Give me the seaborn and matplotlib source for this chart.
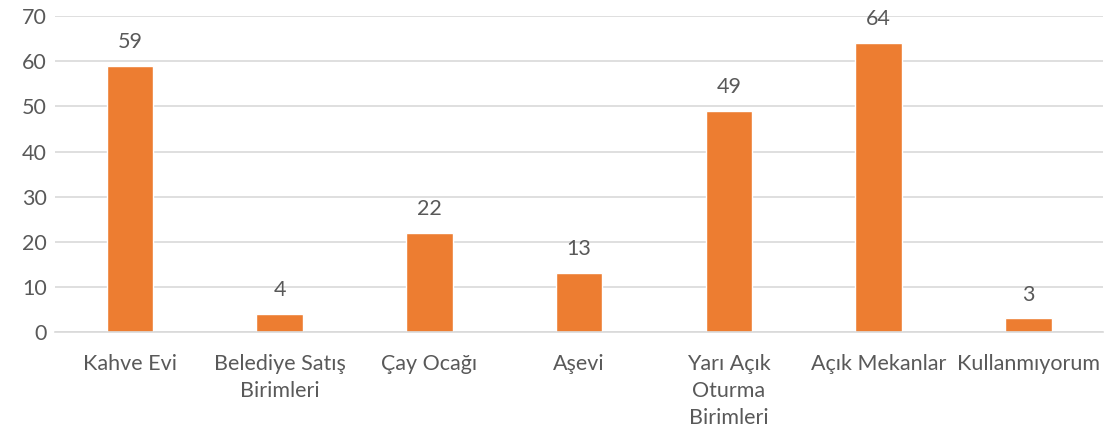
import matplotlib.pyplot as plt
import seaborn as sns
import pandas as pd
import numpy as np

# datos del grafico
categorias = ['Kahve Evi', 'Belediye Satış\nBirimleri', 'Çay Ocağı', 'Aşevi',
              'Yarı Açık\nOturma\nBirimleri', 'Açık Mekanlar', 'Kullanmıyorum']
valores = [59, 4, 22, 13, 49, 64, 3]

df = pd.DataFrame({'categoria': categorias, 'valor': valores})

sns.set_style('white')
plt.rcParams['font.family'] = ['Lato', 'DejaVu Sans']
gris = '#595959'
fs = 15.5

fig = plt.figure(figsize=(11.1, 4.36), dpi=100)
ax = fig.add_axes([0.0495, 0.2385, 0.9445, 0.7245])

sns.barplot(data=df, x='categoria', y='valor', color='#ED7D31', saturation=1,
            width=0.31, ax=ax)

for c in ax.containers:
    ax.bar_label(c, padding=10, fontsize=fs, color=gris)

ax.set_ylim(0, 70)
ax.set_yticks(range(0, 71, 10))
ax.set_xlim(-0.5, len(categorias) - 0.5)
ax.yaxis.grid(True, color='#D9D9D9', linewidth=1.2)
ax.set_axisbelow(True)
ax.set_xlabel('')
ax.set_ylabel('')

for s in ['top', 'right', 'left']:
    ax.spines[s].set_visible(False)
ax.spines['bottom'].set_color('#D9D9D9')
ax.spines['bottom'].set_linewidth(1.2)

ax.tick_params(axis='y', length=0, labelsize=fs, labelcolor=gris, pad=6)
ax.tick_params(axis='x', which='major', length=0, labelsize=fs, labelcolor=gris, pad=16)
ax.set_xticks(np.arange(-0.5, len(categorias), 1), minor=True)
ax.tick_params(axis='x', which='minor', length=6, color='#D9D9D9', width=1.2)
for t in ax.get_xticklabels():
    t.set_linespacing(1.42)

fig.savefig('out.png', dpi=100)
